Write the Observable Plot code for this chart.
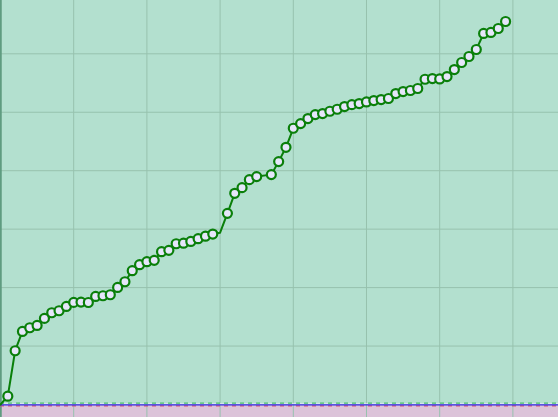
<!DOCTYPE html>
<html>
<head>
<meta charset="utf-8">
<script src="https://cdn.jsdelivr.net/npm/d3@7"></script>
<script src="https://cdn.jsdelivr.net/npm/@observablehq/plot@0.6"></script>
<style>
  html, body { margin: 0; padding: 0; background: #ffffff; }
  #chart svg { display: block; }
</style>
</head>
<body>
<div id="chart"></div>
<script>
// Step index (x) and cumulative value (y); step 36 is absent in the source.
const steps = [0,1,2,3,4,5,6,7,8,9,10,11,12,13,14,15,16,17,18,19,20,21,22,23,24,25,26,27,28,29,30,31,32,33,34,35,37,38,39,40,41,42,43,44,45,46,47,48,49,50,51,52,53,54,55,56,57,58,59,60,61,62,63,64,65,66,67,68,69];
const values = [0,1.42,9.2,12.5,13.13,13.53,14.73,15.7,16.04,16.78,17.47,17.52,17.45,18.49,18.61,18.78,20.03,21.0,22.89,23.92,24.43,24.66,26.14,26.37,27.5,27.6,27.9,28.37,28.8,29.16,29.4,32.7,36.13,37.1,38.47,38.99,39.33,41.56,44.0,47.26,48.06,48.92,49.6,49.78,50.17,50.51,50.98,51.3,51.49,51.76,52.0,52.17,52.35,53.2,53.54,53.72,54.06,55.65,55.77,55.7,56.11,57.31,58.51,59.54,60.74,63.48,63.65,64.33,65.53];
// Steps drawn without a marker
const unmarkedSteps = [0, 30];
// Axis extents and grid ticks
const xDomain = [0, 76.23];
const yDomain = [-2.224, 69.12];
const xGrid = [10, 20, 30, 40, 50, 60, 70];
const yGrid = [10, 20, 30, 40, 50, 60];
const baseline = [0];
const negativeBand = [{x1: xDomain[0], x2: xDomain[1], y1: yDomain[0], y2: 0}];

const data = steps.map((s, i) => ({step: s, value: values[i]}));
const marked = data.filter(d => !unmarkedSteps.includes(d.step));

const chart = Plot.plot({
  width: 558,
  height: 417,
  margin: 0,
  style: {background: "#b3e0cf", overflow: "hidden"},
  x: {domain: xDomain, axis: null},
  y: {domain: yDomain, axis: null},
  marks: [
    Plot.rect(negativeBand, {x1: "x1", x2: "x2", y1: "y1", y2: "y2", fill: "#dcc3d9"}),
    Plot.ruleX(xGrid, {stroke: "#97c2ae", strokeWidth: 1}),
    Plot.ruleY(yGrid, {stroke: "#97c2ae", strokeWidth: 1}),
    Plot.ruleX([xDomain[0]], {stroke: "#5f9c80", strokeWidth: 2.5}),
    Plot.ruleY(baseline, {stroke: "#e8ecf8", strokeWidth: 1, dy: -0.6}),
    Plot.ruleY(baseline, {stroke: "#4cbf6c", strokeWidth: 1.3, strokeDasharray: "4,4", dy: -1.4}),
    Plot.ruleY(baseline, {stroke: "#d8507a", strokeWidth: 1.3, strokeDasharray: "4,4", dy: 1.4}),
    Plot.ruleY(baseline, {stroke: "#2a2ae0", strokeWidth: 1.2, dy: 0.3}),
    Plot.line(data, {x: "step", y: "value", stroke: "#0a7f0a", strokeWidth: 2}),
    Plot.dot(marked, {x: "step", y: "value", r: 4.5, fill: "#e6e6fa", stroke: "#0a7f0a", strokeWidth: 2.2})
  ]
});
document.getElementById("chart").appendChild(chart);
</script>
</body>
</html>
